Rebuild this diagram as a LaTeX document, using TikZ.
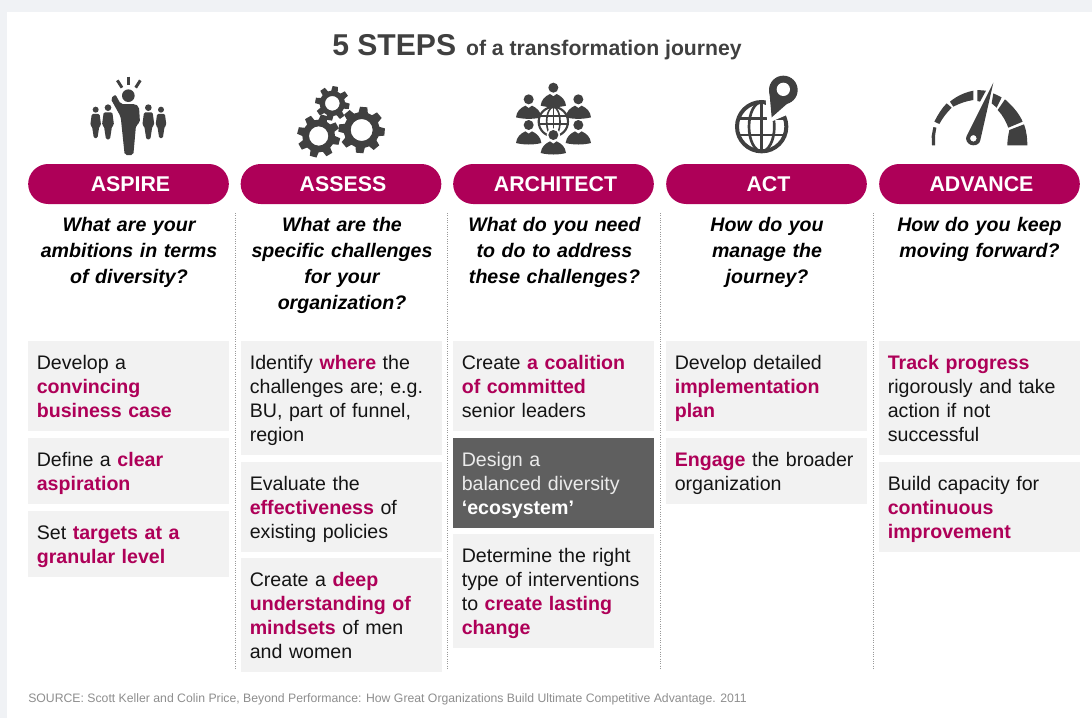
\documentclass[tikz,border=0pt]{standalone}
\usepackage{fontspec}
\setmainfont{Liberation Sans}
\definecolor{mg}{HTML}{AE0058}
\definecolor{pagebg}{HTML}{F0F2F5}
\definecolor{boxgray}{HTML}{F2F2F2}
\definecolor{boxdark}{HTML}{5F5F5F}
\definecolor{iconc}{HTML}{404040}
\definecolor{srcc}{HTML}{8E8E8E}
\newcommand{\topstrutx}{\rule{0pt}{14.6pt}}
\newcommand{\botstrutx}{\rule[-3.4pt]{0pt}{3.4pt}}
\newcommand{\mgb}[1]{\textcolor{mg}{\textbf{#1}}}
\newcommand{\bx}[6][]{\node[stepbox,minimum height=#5*0.75pt,#1] (#2) at (#3,#4) {\topstrutx#6\botstrutx};}
\newcommand{\pillx}[3]{\node[pillbox] (#1) at (#2,184) {\hspace*{3pt}#3};}
\newcommand{\ask}[3]{\node[askbox] (#1) at (#2,211) {\rule{0pt}{15pt}#3\rule[-3pt]{0pt}{3pt}};}
\newcommand{\gearx}[6]{\fill[iconc,even odd rule,shift={(#1,#2)}] (#6-15:#4)
  \foreach \a in {0,45,...,315}{ -- ({#6+\a-15}:#4) -- ({#6+\a-9}:#3) -- ({#6+\a+9}:#3) -- ({#6+\a+15}:#4)} -- cycle (0,0) circle[radius=#5];}
\newcommand{\bust}[2]{\fill[iconc] (#1,#2) circle[radius=15];
  \fill[iconc,shift={(#1,#2)}] (-38,54) .. controls (-36,36) and (-25,26) .. (-10,19) -- (0,26) -- (10,19) .. controls (25,26) and (36,36) .. (38,54) .. controls (15,60) and (-15,60) .. (-38,54) -- cycle;}
\newcommand{\persx}[3]{\begin{scope}[shift={(#1,#2)},scale=#3]
  \fill[iconc] (0,0) circle[radius=10];
  \fill[iconc,rounded corners=1pt] (-13,14) -- (13,14) -- (18,52) -- (12,56) -- (6,95) -- (-6,95) -- (-12,56) -- (-18,52) -- cycle;
  \end{scope}}
\tikzset{
  stepbox/.style={rectangle,anchor=north west,fill=boxgray,inner xsep=6.4pt,inner ysep=0pt,text width=137.95pt,align=left,text=black!92,font=\fontsize{14.7}{18}\selectfont},
  darkbox/.style={fill=boxdark,text=white!92!black},
  pillbox/.style={rectangle,rounded corners=15pt,fill=mg,text=white,minimum width=150.5pt,minimum height=30pt,inner sep=0pt,text height=12pt,text depth=.5pt,font=\fontsize{16}{18}\selectfont\bfseries},
  askbox/.style={anchor=north,inner sep=0pt,text width=146pt,align=center,text=black,font=\fontsize{14.7}{19.5}\selectfont\bfseries\itshape},
  sep/.style={draw=black!40,line width=.75pt,dash pattern=on .75pt off 1pt}
}
\begin{document}
\begin{tikzpicture}[x=.75pt,y=-.75pt]
\useasboundingbox (0,0) rectangle (1092,718);
\fill[pagebg] (0,0) rectangle (1092,718);
\fill[white] (7,12) rectangle (1092,718);
% title
\node[anchor=base west,inner sep=0pt,text=iconc,font=\bfseries] (title) at (332,55)
  {{\fontsize{22.6}{26}\selectfont 5 STEPS}\hspace{7.4pt}{\fontsize{15.9}{20}\selectfont of a transformation journey}};
% separators
\coordinate (s1t) at (235,213); \coordinate (s1b) at (235,670);
\coordinate (s2t) at (447,213); \coordinate (s2b) at (447,670);
\coordinate (s3t) at (660,213); \coordinate (s3b) at (660,670);
\coordinate (s4t) at (873,213); \coordinate (s4b) at (873,670);
\draw[sep] (s1t) -- (s1b);
\draw[sep] (s2t) -- (s2b);
\draw[sep] (s3t) -- (s3b);
\draw[sep] (s4t) -- (s4b);
% pills
\pillx{p1}{128.5}{ASPIRE}
\pillx{p2}{341}{ASSESS}
\pillx{p3}{553.5}{ARCHITECT}
\pillx{p4}{766.5}{ACT}
\pillx{p5}{979.5}{ADVANCE}
% questions
\ask{q1}{129}{What are your\\ambitions in terms\\of diversity?}
\ask{q2}{342}{What are the\\specific challenges\\for your\\organization?}
\ask{q3}{554.5}{What do you need\\to do to address\\these challenges?}
\ask{q4}{767}{How do you\\manage the\\journey?}
\ask{q5}{979.5}{How do you keep\\moving forward?}
% boxes
\bx{b11}{28}{341}{90}{Develop a\\\mgb{convincing}\\\mgb{business case}}
\bx{b12}{28}{438}{66}{Define a \mgb{clear}\\\mgb{aspiration}}
\bx{b13}{28}{511}{66}{Set \mgb{targets at a}\\\mgb{granular level}}
\bx{b21}{241}{341}{114}{Identify \mgb{where} the\\challenges are; e.g.\\BU, part of funnel,\\region}
\bx{b22}{241}{462}{90}{Evaluate the\\\mgb{effectiveness} of\\existing policies}
\bx{b23}{241}{558}{114}{Create a \mgb{deep}\\\mgb{understanding of}\\\mgb{mindsets} of men\\and women}
\bx{b31}{453}{341}{90}{Create \mgb{a coalition}\\\mgb{of committed}\\senior leaders}
\bx[darkbox]{b32}{453}{438}{90}{Design a\\balanced diversity\\\textcolor{white}{\textbf{‘ecosystem’}}}
\bx{b33}{453}{534}{114}{Determine the right\\type of interventions\\to \mgb{create lasting}\\\mgb{change}}
\bx{b41}{666}{341}{90}{Develop detailed\\\mgb{implementation}\\\mgb{plan}}
\bx{b42}{666}{438}{66}{\mgb{Engage} the broader\\organization}
\bx{b51}{879}{341}{114}{\mgb{Track progress}\\rigorously and take\\action if not\\successful}
\bx{b52}{879}{462}{90}{Build capacity for\\\mgb{continuous}\\\mgb{improvement}}
% source
\node[anchor=base west,inner sep=0pt,text=srcc,font=\fontsize{9.18}{11}\selectfont] (src) at (28,702)
  {SOURCE: Scott Keller and Colin Price, Beyond Performance: How Great Organizations Build Ultimate Competitive Advantage. 2011};
% icon 1: aspire
\begin{scope}[shift={(0,0)},x=.25pt,y=-.25pt]
  \draw[iconc,line width=2.2pt] (386,230) -- (386,255);
  \draw[iconc,line width=2.2pt] (352,241) -- (366,263);
  \draw[iconc,line width=2.2pt] (421,241) -- (407,263);
  \fill[iconc] (385,287) circle[radius=19];
  \fill[iconc,rounded corners=1.5pt] (346,283) -- (362,312) -- (405,312) -- (417,320) -- (420,368) -- (408,376) -- (400,465) -- (374,465) -- (362,350) -- (332,296) -- cycle;
  \persx{287}{329}{.9}
  \persx{324}{323}{1}
  \persx{445}{323}{1}
  \persx{483}{329}{.9}
\end{scope}
% icon 2: gears
\begin{scope}[shift={(60,60)},x=.25pt,y=-.25pt]
  \gearx{817}{130}{52}{38}{22}{10}
  \gearx{776}{228}{65}{49}{29}{15}
  \gearx{905}{210}{70}{54}{33}{5}
\end{scope}
% icon 3: people and globe
\begin{scope}[shift={(490,60)},x=.25pt,y=-.25pt]
  \bust{190}{83}
  \bust{116}{118}
  \bust{265}{118}
  \bust{116}{195}
  \bust{265}{195}
  \draw[iconc,line width=1.6pt,fill=white] (190,185) circle[radius=44];
  \draw[iconc,line width=1.2pt] (190,185) ellipse[x radius=20,y radius=44];
  \draw[iconc,line width=1.2pt] (190,141) -- (190,229);
  \draw[iconc,line width=1.2pt] (151,168) -- (229,168);
  \draw[iconc,line width=1.2pt] (147,192) -- (233,192);
  \fill[white] (190,225) circle[radius=20];
  \fill[white] (145,282) -- (150,256) -- (172,238) -- (208,238) -- (230,256) -- (235,282) -- cycle;
  \bust{190}{225}
\end{scope}
% icon 4: globe and pin
\begin{scope}[shift={(490,60)},x=.25pt,y=-.25pt]
  \draw[iconc,line width=3pt] (815,200) circle[radius=74];
  \draw[iconc,line width=2pt] (815,200) ellipse[x radius=38,y radius=74];
  \draw[iconc,line width=2pt] (815,126) -- (815,274);
  \draw[iconc,line width=2pt] (747,176) -- (883,176);
  \draw[iconc,line width=2pt] (743,225) -- (887,225);
  \fill[white] (832,190) -- (826,100) -- (900,100) -- (920,150) -- (890,165) -- cycle;
  \fill[iconc] (880,90) circle[radius=43];
  \fill[iconc] (845,172) -- (838,95) -- (920,106) -- cycle;
  \fill[white] (880,88) circle[radius=20];
\end{scope}
% icon 5: gauge
\begin{scope}[shift={(900,60)},x=.25pt,y=-.25pt]
  \fill[iconc] (96,256) -- (95,228) -- (100,201) -- (109,203) -- (105,228) -- (105,256) -- cycle;
  \fill[iconc] (103,185) .. controls (113,165) and (125,145) .. (140,130) -- (155,143) .. controls (140,158) and (127,175) .. (118,192) -- cycle;
  \fill[iconc] (150,125) .. controls (170,108) and (195,97) .. (220,92) -- (220,120) .. controls (200,123) and (178,130) .. (160,140) -- cycle;
  \fill[iconc] (232,90) -- (258,92) -- (240,125) -- (232,123) -- cycle;
  \fill[iconc] (280,100) -- (305,112) -- (290,143) -- (275,130) -- cycle;
  \fill[iconc] (315,118) .. controls (340,140) and (358,162) .. (368,185) -- (325,203) .. controls (318,185) and (308,165) .. (293,150) -- cycle;
  \fill[iconc] (372,193) .. controls (380,215) and (382,235) .. (382,256) -- (322,256) .. controls (322,240) and (325,225) .. (328,210) -- cycle;
  \fill[iconc,even odd rule] (200,228) -- (280,68) -- (241,240) .. controls (238,262) and (200,262) .. (198,235) -- cycle (220,235) circle[radius=10];
\end{scope}
\end{tikzpicture}
\end{document}
